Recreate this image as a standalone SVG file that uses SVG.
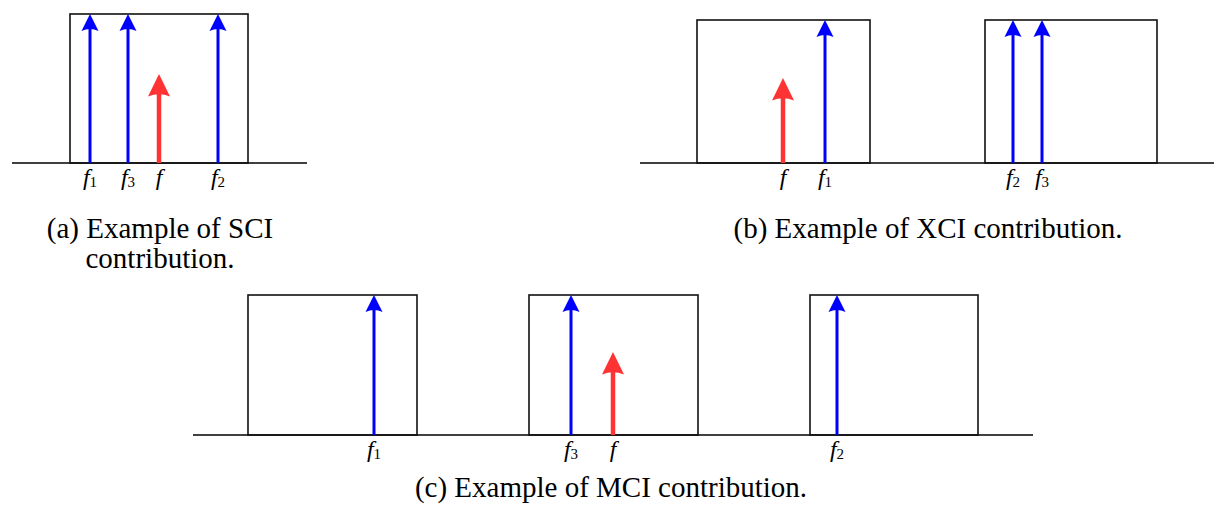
<svg xmlns="http://www.w3.org/2000/svg" width="1214" height="514" viewBox="0 0 1214 514">
<style>
.axis{stroke:#000;stroke-width:1.5;fill:none}
.box{stroke:#111;stroke-width:1.6;fill:none}
.blue{stroke:#0000ff;stroke-width:3;fill:none;marker-end:url(#hb)}
.red{stroke:#ff3333;stroke-width:4.5;fill:none;marker-end:url(#hr)}
.lbl{font-family:"Liberation Serif","Times New Roman",serif;font-size:24px;fill:#000;text-anchor:middle}
.lbl .v{font-style:italic}
.lbl .s{font-size:15px}
.cap{font-family:"Liberation Serif","Times New Roman",serif;font-size:29px;fill:#000;text-anchor:middle}
</style>
<defs>
<marker id="hb" markerUnits="userSpaceOnUse" markerWidth="1" markerHeight="1" refX="0" refY="0" orient="auto" overflow="visible">
<path d="M12,0 L-5,-8.5 Q-1,0 -5,8.5 Z" fill="#0000ff"/>
</marker>
<marker id="hr" markerUnits="userSpaceOnUse" markerWidth="1" markerHeight="1" refX="0" refY="0" orient="auto" overflow="visible">
<path d="M15,0 L-7.5,-11 Q-3,0 -7.5,11 Z" fill="#ff3333"/>
</marker>
</defs>

<!-- (a) SCI -->
<g id="panel-a">
<line class="axis" x1="12" y1="163" x2="307" y2="163"/>
<rect id="a-band" class="box" x="70" y="14" width="178" height="149"/>
<g id="a-arrows">
<line class="blue" x1="90" y1="163" x2="90" y2="26"/>
<line class="blue" x1="128" y1="163" x2="128" y2="26"/>
<line class="blue" x1="218" y1="163" x2="218" y2="26"/>
<line class="red" x1="159" y1="163" x2="159" y2="89"/>
</g>
<text class="lbl" x="90" y="185"><tspan class="v">f</tspan><tspan class="s" dy="2">1</tspan></text>
<text class="lbl" x="128" y="185"><tspan class="v">f</tspan><tspan class="s" dy="2">3</tspan></text>
<text class="lbl" x="159" y="185"><tspan class="v">f</tspan></text>
<text class="lbl" x="218" y="185"><tspan class="v">f</tspan><tspan class="s" dy="2">2</tspan></text>
<text class="cap" x="160" y="238">(a) Example of SCI</text>
<text class="cap" x="160" y="268">contribution.</text>
</g>

<!-- (b) XCI -->
<g id="panel-b">
<line class="axis" x1="640" y1="163" x2="1214" y2="163"/>
<rect id="b-band1" class="box" x="697" y="20" width="173" height="143"/>
<rect id="b-band2" class="box" x="985" y="20" width="172" height="143"/>
<g id="b-arrows">
<line class="red" x1="783" y1="163" x2="783" y2="93"/>
<line class="blue" x1="825" y1="163" x2="825" y2="32"/>
<line class="blue" x1="1013" y1="163" x2="1013" y2="32"/>
<line class="blue" x1="1042" y1="163" x2="1042" y2="32"/>
</g>
<text class="lbl" x="783" y="185"><tspan class="v">f</tspan></text>
<text class="lbl" x="825" y="185"><tspan class="v">f</tspan><tspan class="s" dy="2">1</tspan></text>
<text class="lbl" x="1013" y="185"><tspan class="v">f</tspan><tspan class="s" dy="2">2</tspan></text>
<text class="lbl" x="1042" y="185"><tspan class="v">f</tspan><tspan class="s" dy="2">3</tspan></text>
<text class="cap" x="928" y="238">(b) Example of XCI contribution.</text>
</g>

<!-- (c) MCI -->
<g id="panel-c">
<line class="axis" x1="193" y1="435" x2="1033" y2="435"/>
<rect id="c-band1" class="box" x="248" y="295" width="169" height="140"/>
<rect id="c-band2" class="box" x="529" y="295" width="169" height="140"/>
<rect id="c-band3" class="box" x="810" y="295" width="168" height="140"/>
<g id="c-arrows">
<line class="blue" x1="374" y1="435" x2="374" y2="307"/>
<line class="blue" x1="571" y1="435" x2="571" y2="307"/>
<line class="red" x1="613" y1="435" x2="613" y2="367"/>
<line class="blue" x1="837" y1="435" x2="837" y2="307"/>
</g>
<text class="lbl" x="374" y="457"><tspan class="v">f</tspan><tspan class="s" dy="2">1</tspan></text>
<text class="lbl" x="571" y="457"><tspan class="v">f</tspan><tspan class="s" dy="2">3</tspan></text>
<text class="lbl" x="613" y="457"><tspan class="v">f</tspan></text>
<text class="lbl" x="837" y="457"><tspan class="v">f</tspan><tspan class="s" dy="2">2</tspan></text>
<text class="cap" x="611" y="497">(c) Example of MCI contribution.</text>
</g>
</svg>
